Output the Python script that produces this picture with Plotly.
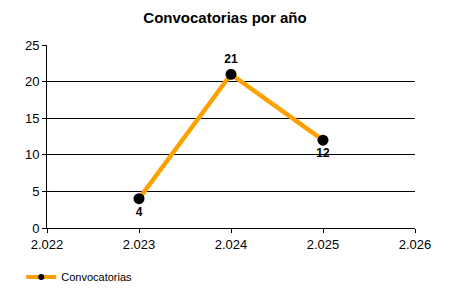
import plotly.graph_objects as go

years = [2023, 2024, 2025]
counts = [4, 21, 12]
label_positions = ["bottom center", "top center", "bottom center"]
series_name = "Convocatorias"
title_text = "Convocatorias por año"

fig = go.Figure()
fig.add_trace(go.Scatter(
    x=years, y=counts, name=series_name,
    mode="lines+markers+text",
    text=[str(c) for c in counts],
    textposition=label_positions,
    textfont=dict(family="Liberation Sans, Arial", size=12, color="black", weight="bold"),
    line=dict(color="#FFA000", width=4.5),
    marker=dict(color="black", size=11),
    cliponaxis=False,
    showlegend=False,
))
# legend entry with a smaller marker, as in the reference
fig.add_trace(go.Scatter(
    x=[None], y=[None], name=series_name, mode="lines+markers",
    line=dict(color="#FFA000", width=4),
    marker=dict(color="black", size=6),
    showlegend=True,
))

axis_font = dict(family="Liberation Sans, Arial", size=13, color="black")
fig.update_layout(
    width=450, height=300,
    margin=dict(l=47, r=35, t=45, b=72, autoexpand=False),
    paper_bgcolor="white", plot_bgcolor="white",
    separators=",.",
    title=dict(text="<b>" + title_text + "</b>", x=0.5, xanchor="center", y=1 - 18/300, yanchor="middle",
               font=dict(family="Liberation Sans, Arial", size=15, color="black")),
    xaxis=dict(range=[2022, 2026], dtick=1, tick0=2022, tickformat=",d",
               showgrid=False, zeroline=False, showline=True, linecolor="black", linewidth=1,
               ticks="outside", ticklen=4, tickcolor="black", tickfont=axis_font,
               automargin=False),
    yaxis=dict(range=[0, 25], dtick=5, showgrid=True, gridcolor="black", gridwidth=1,
               zeroline=False, showline=True, linecolor="black", linewidth=1,
               ticks="outside", ticklen=4, tickcolor="black", tickfont=axis_font,
               automargin=False),
    showlegend=True,
    legend=dict(orientation="h", x=-0.07, xanchor="left", y=(228-277)/183, yanchor="middle",
                font=dict(family="Liberation Sans, Arial", size=11, color="black"),
                itemwidth=30, bgcolor="rgba(0,0,0,0)"),
)

fig.write_html("out.html")
